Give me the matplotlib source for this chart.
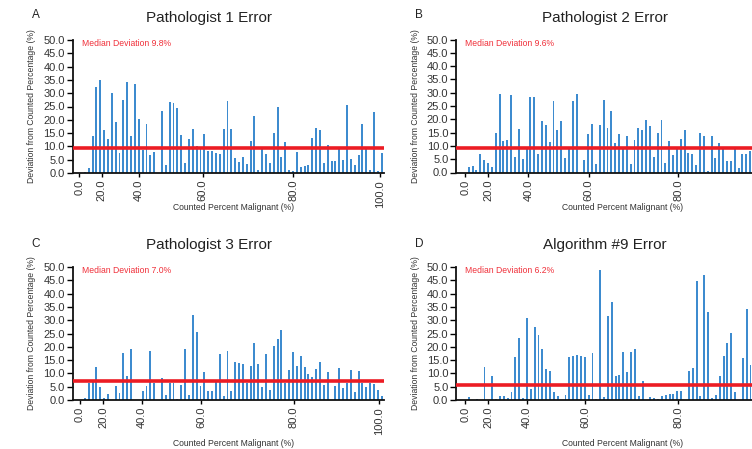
import matplotlib
matplotlib.use("Agg")
import matplotlib.pyplot as plt
import numpy as np

plt.rcParams['font.family'] = ['Liberation Sans', 'DejaVu Sans']

# ---------------- data (deviation %, one bar per counted-percentage category) -------------
path1 = [0, 0.5, 1.9, 13.8, 32.5, 35.0, 16.0, 12.6, 30.0, 19.3, 7.7, 27.6, 34.3, 13.8, 33.5,
         20.2, 8.6, 18.3, 6.6, 8.0, 0, 23.2, 3.1, 26.7, 26.3, 24.5, 14.4, 3.8, 12.9, 16.7,
         10.3, 9.0, 14.8, 8.1, 8.1, 7.5, 7.3, 16.7, 26.9, 16.7, 5.5, 4.1, 6.1, 3.2, 12.2,
         21.6, 1.3, 9.1, 7.3, 3.9, 15.0, 25.0, 6.2, 11.6, 1.3, 0.6, 7.9, 2.4, 2.5, 2.9,
         13.2, 16.9, 16.3, 3.8, 10.6, 4.5, 4.5, 9.0, 5.0, 25.4, 5.4, 2.9, 6.9, 18.4, 9.0,
         1.3, 22.9, 0.6, 7.5]
path2 = [0, 2.0, 2.6, 1.0, 7.0, 4.8, 3.6, 2.2, 14.9, 29.5, 12.0, 12.4, 29.1, 5.9, 16.5,
         5.2, 9.0, 28.3, 28.3, 7.0, 19.5, 18.0, 11.5, 26.8, 16.1, 19.5, 5.6, 9.0, 27.0, 29.5,
         0, 4.8, 14.5, 18.3, 3.2, 17.8, 27.3, 16.6, 23.3, 11.1, 14.3, 9.0, 13.6, 3.3, 12.3,
         16.6, 16.1, 19.9, 17.4, 5.9, 14.9, 19.8, 3.6, 11.7, 6.4, 9.0, 12.6, 15.8, 7.3, 7.0,
         3.0, 14.8, 13.8, 0.5, 13.8, 5.5, 11.2, 9.7, 4.4, 4.4, 9.0, 1.8, 7.0, 6.8, 7.9]
path3 = [0, 0.6, 6.4, 6.6, 12.3, 4.8, 0.8, 2.4, 0, 5.4, 2.6, 17.7, 9.1, 19.0, 0,
         0, 3.3, 5.1, 18.3, 6.4, 0, 8.3, 1.8, 6.4, 6.4, 0.5, 5.8, 19.0, 2.0, 31.8,
         25.6, 5.1, 10.4, 3.3, 3.3, 7.2, 17.3, 1.6, 18.3, 3.5, 14.3, 14.0, 13.7, 6.5, 12.9,
         21.4, 13.7, 4.8, 17.2, 3.6, 20.3, 22.8, 26.4, 6.4, 11.2, 18.0, 12.9, 16.4, 12.3, 9.9,
         8.7, 11.6, 14.2, 5.8, 10.7, 0, 5.4, 11.9, 4.6, 6.4, 11.2, 3.1, 10.9, 6.4, 4.8,
         6.4, 6.0, 3.9, 1.6]
algo9 = [0, 1.0, 0, 0.3, 0, 12.3, 0, 9.1, 0.3, 1.5, 1.5, 0.8, 2.9, 16.0, 23.3,
         0.8, 30.8, 4.1, 27.4, 24.6, 19.2, 11.7, 11.0, 3.1, 1.5, 0, 2.0, 16.1, 16.4, 16.8,
         16.4, 16.0, 1.9, 17.7, 0.3, 49.0, 1.0, 31.5, 36.8, 9.1, 9.5, 18.0, 10.4, 18.0, 19.2,
         1.5, 7.0, 0, 1.2, 0.8, 0.5, 1.5, 2.0, 2.3, 2.4, 3.3, 3.3, 0, 10.8, 12.0,
         44.9, 1.5, 46.9, 33.1, 0.8, 1.8, 8.9, 16.4, 21.4, 25.2, 2.9, 0, 15.8, 34.2, 13.3]

series = [path1, path2, path3, algo9]
titles = ["Pathologist 1 Error", "Pathologist 2 Error", "Pathologist 3 Error", "Algorithm #9 Error"]
letters = ["A", "B", "C", "D"]
median_labels = ["Median Deviation 9.8%", "Median Deviation 9.6%",
                 "Median Deviation 7.0%", "Median Deviation 6.2%"]
median_lines = [9.3, 9.3, 7.0, 5.8]
xtick_labels_full = ["0.0", "20.0", "40.0", "60.0", "80.0", "100.0"]
xtick_labels_cut = ["0.0", "20.0", "40.0", "60.0", "80.0"]
xtick_pos = [[-0.4, 5.4, 15.1, 31.6, 55.1, 77.6],
             [0.1, 6.1, 16.5, 32.1, 55.4],
             [-0.3, 5.8, 15.7, 31.2, 55.2, 77.3],
             [0.0, 6.0, 16.0, 31.1, 55.2]]
xtick_labels = [xtick_labels_full, xtick_labels_cut, xtick_labels_full, xtick_labels_cut]
yticks = [0, 5, 10, 15, 20, 25, 30, 35, 40, 45, 50]

# ---------------- layout (pixels) ----------------
W, H = 752, 449
fig = plt.figure(figsize=(W / 100, H / 100), dpi=100)

# left px, y of 50 px, y of 0 px, left xlim
panels = [(72.5, 40.0, 173.0, -2.2),
          (456.0, 39.5, 172.5, -2.3),
          (72.5, 267.0, 400.0, -2.2),
          (456.0, 267.0, 400.0, -2.4)]
axw = 311.0
units = axw / 3.855
title_x = [0.44, 0.479, 0.44, 0.477]
xlabel_x = [0.518, 0.537, 0.518, 0.537]
xlabel_y = [-0.228, -0.228, -0.292, -0.292]
letter_pos = [(35.5, 15.5), (419, 15.5), (35.5, 244), (419, 244)]

bar_color = "#3d8bcf"
red = "#ec1c24"

for k in range(4):
    l, y50, y0, xl = panels[k]
    ax = fig.add_axes([l / W, (H - y0) / H, axw / W, (y0 - y50) / H])
    vals = series[k]
    ax.bar(np.arange(len(vals)), vals, width=0.5, color=bar_color, linewidth=0)
    ax.axhline(median_lines[k], color=red, lw=2.6, zorder=3)
    ax.set_xlim(xl, xl + units)
    ax.set_ylim(0, 50)
    ax.set_yticks(yticks)
    ax.set_yticklabels([f"{v:.1f}" for v in yticks])
    ax.set_xticks(xtick_pos[k])
    ax.set_xticklabels(xtick_labels[k], rotation=90)
    for s in ["top", "right"]:
        ax.spines[s].set_visible(False)
    for s in ["left", "bottom"]:
        ax.spines[s].set_linewidth(1.3)
        ax.spines[s].set_color("#111111")
    ax.tick_params(axis="y", direction="out", length=4, width=1, labelsize=8,
                   labelcolor="#333333", pad=1.5)
    ax.tick_params(axis="x", direction="out", length=3, width=1, labelsize=8,
                   labelcolor="#333333", pad=2)
    ax.set_ylabel("Deviation from Counted Percentage (%)", fontsize=6.2, color="#333333")
    ax.yaxis.set_label_coords(-0.117, 0.5)
    ax.set_xlabel("Counted Percent Malignant (%)", fontsize=6.2, color="#333333")
    ax.xaxis.set_label_coords(xlabel_x[k], xlabel_y[k])
    ax.text(title_x[k], 1.165, titles[k], transform=ax.transAxes, ha="center",
            va="center", fontsize=11, color="#222222")
    ax.text(0.03, 0.97, median_labels[k], transform=ax.transAxes, ha="left",
            va="center", fontsize=6.2, color="#f0303a")
    lx, ly = letter_pos[k]
    fig.text(lx / W, 1 - ly / H, letters[k], ha="center", va="center",
             fontsize=8.5, color="#222222")

fig.savefig("out.png", dpi=100)
